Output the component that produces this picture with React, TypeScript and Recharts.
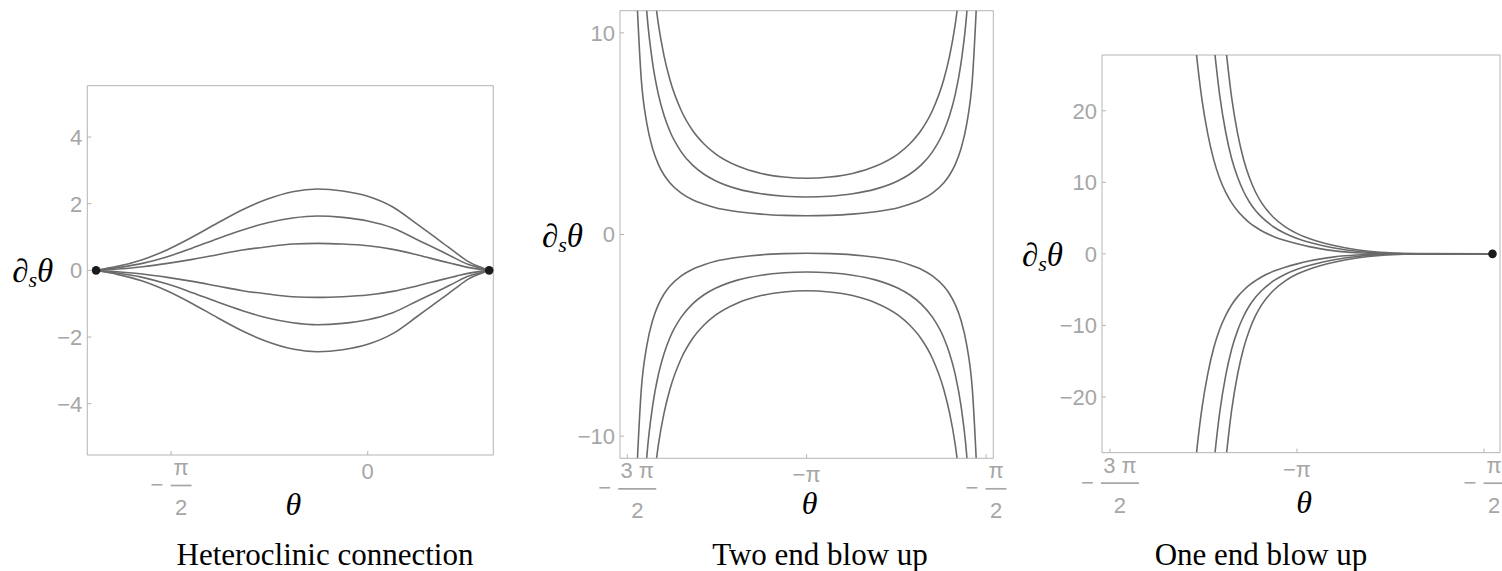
import React from 'react';
import { ComposedChart, Line, XAxis, YAxis, ReferenceLine, ReferenceDot } from 'recharts';

const PI = Math.PI;

// Heteroclinic connection: three orbits above and three below, all joining the two equilibria
const heteroTheta = [-2.17, -2.1, -2.0, -1.8, -1.6, -1.4, -1.2, -1.0, -0.8, -0.6, -0.4, -0.2, 0.0, 0.2, 0.4, 0.6, 0.7, 0.8, 0.9, 0.97];
const heteroUp1 = [0, 0.02, 0.04, 0.11, 0.21, 0.33, 0.47, 0.61, 0.71, 0.79, 0.81, 0.79, 0.74, 0.63, 0.46, 0.27, 0.18, 0.09, 0.03, 0];
const heteroUp2 = [0, 0.03, 0.08, 0.21, 0.41, 0.67, 0.95, 1.21, 1.43, 1.57, 1.63, 1.59, 1.48, 1.27, 0.91, 0.55, 0.36, 0.18, 0.07, 0];
const heteroUp3 = [0, 0.05, 0.12, 0.32, 0.62, 1.0, 1.42, 1.82, 2.14, 2.36, 2.44, 2.38, 2.22, 1.9, 1.37, 0.82, 0.54, 0.27, 0.1, 0];
const heteroDown1 = [0, -0.02, -0.04, -0.11, -0.21, -0.33, -0.47, -0.61, -0.71, -0.79, -0.81, -0.79, -0.74, -0.63, -0.46, -0.27, -0.18, -0.09, -0.03, 0];
const heteroDown2 = [0, -0.03, -0.08, -0.21, -0.41, -0.67, -0.95, -1.21, -1.43, -1.57, -1.63, -1.59, -1.48, -1.27, -0.91, -0.55, -0.36, -0.18, -0.07, 0];
const heteroDown3 = [0, -0.05, -0.12, -0.32, -0.62, -1.0, -1.42, -1.82, -2.14, -2.36, -2.44, -2.38, -2.22, -1.9, -1.37, -0.82, -0.54, -0.27, -0.1, 0];
const heteroEquilibria = [-2.17, 0.97];
const heteroXTicks = [-PI / 2, 0];
const heteroXLabels = ['−π/2', '0'];
const heteroYTicks = [-4, -2, 0, 2, 4];

// Two end blow up: orbits escape to infinity on both sides of -π
const twoEndTheta = [
  -4.69, -4.64, -4.59, -4.54, -4.49, -4.44, -4.39, -4.34, -4.24, -4.14, -4.04, -3.94, -3.74, -3.54, -3.34, -3.14,
  -2.94, -2.74, -2.54, -2.34, -2.24, -2.14, -2.04, -1.94, -1.89, -1.84, -1.79, -1.74, -1.69, -1.64, -1.59,
];
const twoEndUp1 = [
  null, 13.15, 7.72, 5.47, 4.25, 3.48, 2.95, 2.57, 2.05, 1.72, 1.5, 1.33, 1.13, 1.01, 0.95, 0.93,
  0.95, 1.01, 1.13, 1.33, 1.5, 1.72, 2.05, 2.57, 2.95, 3.48, 4.25, 5.47, 7.72, 13.15, null,
];
const twoEndUp2 = [
  null, null, 15.44, 10.94, 8.49, 6.95, 5.9, 5.13, 4.1, 3.44, 2.99, 2.67, 2.25, 2.02, 1.9, 1.86,
  1.9, 2.02, 2.25, 2.67, 2.99, 3.44, 4.1, 5.13, 5.9, 6.95, 8.49, 10.94, 15.44, null, null,
];
const twoEndUp3 = [
  null, null, null, null, 12.74, 10.43, 8.85, 7.7, 6.15, 5.16, 4.49, 4.0, 3.38, 3.03, 2.85, 2.79,
  2.85, 3.03, 3.38, 4.0, 4.49, 5.16, 6.15, 7.7, 8.85, 10.43, 12.74, null, null, null, null,
];
const twoEndDown1 = [
  null, -13.15, -7.72, -5.47, -4.25, -3.48, -2.95, -2.57, -2.05, -1.72, -1.5, -1.33, -1.13, -1.01, -0.95, -0.93,
  -0.95, -1.01, -1.13, -1.33, -1.5, -1.72, -2.05, -2.57, -2.95, -3.48, -4.25, -5.47, -7.72, -13.15, null,
];
const twoEndDown2 = [
  null, null, -15.44, -10.94, -8.49, -6.95, -5.9, -5.13, -4.1, -3.44, -2.99, -2.67, -2.25, -2.02, -1.9, -1.86,
  -1.9, -2.02, -2.25, -2.67, -2.99, -3.44, -4.1, -5.13, -5.9, -6.95, -8.49, -10.94, -15.44, null, null,
];
const twoEndDown3 = [
  null, null, null, null, -12.74, -10.43, -8.85, -7.7, -6.15, -5.16, -4.49, -4.0, -3.38, -3.03, -2.85, -2.79,
  -2.85, -3.03, -3.38, -4.0, -4.49, -5.16, -6.15, -7.7, -8.85, -10.43, -12.74, null, null, null, null,
];
const twoEndXTicks = [(-3 * PI) / 2, -PI, -PI / 2];
const twoEndXLabels = ['−3 π/2', '−π', '−π/2'];
const twoEndYTicks = [-10, 0, 10];

// One end blow up: orbits leave the equilibrium and escape on the left only
const oneEndTheta = [
  -4.04, -3.99, -3.94, -3.89, -3.84, -3.79, -3.74, -3.69, -3.64, -3.59, -3.54, -3.49, -3.44, -3.34, -3.24,
  -3.14, -3.04, -2.94, -2.84, -2.74, -2.64, -2.54, -2.44, -2.34, -2.14, -1.5,
];
const oneEndUp1 = [
  38.0, 28.6, 21.6, 16.7, 13.1, 10.5, 8.6, 7.12, 5.98, 5.09, 4.34, 3.75, 3.23, 2.44, 1.86,
  1.4, 1.01, 0.7, 0.455, 0.276, 0.155, 0.081, 0.04, 0.02, 0, 0,
];
const oneEndUp2 = [
  null, null, null, null, 29.3, 22.1, 17.0, 13.3, 10.7, 8.72, 7.22, 6.06, 5.16, 3.79, 2.84,
  2.15, 1.63, 1.2, 0.855, 0.574, 0.362, 0.211, 0.115, 0.06, 0.015, 0,
];
const oneEndUp3 = [
  null, null, null, null, null, null, 28.9, 21.8, 16.8, 13.2, 10.6, 8.65, 7.17, 5.12, 3.77,
  2.83, 2.14, 1.62, 1.2, 0.85, 0.57, 0.36, 0.21, 0.113, 0.03, 0,
];
const oneEndDown1 = [
  -38.0, -28.6, -21.6, -16.7, -13.1, -10.5, -8.6, -7.12, -5.98, -5.09, -4.34, -3.75, -3.23, -2.44, -1.86,
  -1.4, -1.01, -0.7, -0.455, -0.276, -0.155, -0.081, -0.04, -0.02, 0, 0,
];
const oneEndDown2 = [
  null, null, null, null, -29.3, -22.1, -17.0, -13.3, -10.7, -8.72, -7.22, -6.06, -5.16, -3.79, -2.84,
  -2.15, -1.63, -1.2, -0.855, -0.574, -0.362, -0.211, -0.115, -0.06, -0.015, 0,
];
const oneEndDown3 = [
  null, null, null, null, null, null, -28.9, -21.8, -16.8, -13.2, -10.6, -8.65, -7.17, -5.12, -3.77,
  -2.83, -2.14, -1.62, -1.2, -0.85, -0.57, -0.36, -0.21, -0.113, -0.03, 0,
];
const oneEndEquilibria = [-1.5];
const oneEndXTicks = [(-3 * PI) / 2, -PI, -PI / 2];
const oneEndXLabels = ['−3 π/2', '−π', '−π/2'];
const oneEndYTicks = [-20, -10, 0, 10, 20];

const FRAME = '#b4b4b4';
const TICK_TEXT = '#a6a6a6';
const CURVE = '#6a6a6a';
const SANS = '"Liberation Sans", Arial, sans-serif';
const SERIF = '"Liberation Serif", "Times New Roman", serif';
const TICK_FONT = 22;

const curveKeys = ['u1', 'u2', 'u3', 'd1', 'd2', 'd3'];

function buildRows(theta: number[], curves: (number | null)[][]) {
  return theta.map((t, i) => {
    const row: Record<string, number | null> = { t };
    curves.forEach((c, k) => {
      row[curveKeys[k]] = c[i];
    });
    return row;
  });
}

// tick label under the frame: plain text, or a stacked fraction such as −3π/2
function PiText({ x, y, text }: { x: number; y: number; text: string }) {
  const m = text.match(/^(−?)(.+)\/(.+)$/);
  const common = { fill: TICK_TEXT, fontFamily: SANS, fontSize: TICK_FONT };
  if (!m) {
    return (
      <text x={x} y={y + 24} textAnchor="middle" {...common}>
        {text}
      </text>
    );
  }
  const [, sign, num, den] = m;
  const bar = num.length > 1 ? 38 : 21;
  const signW = sign ? 20 : 0;
  const start = x - (signW + bar) / 2;
  const fx = start + signW + bar / 2;
  return (
    <g>
      {sign && (
        <text x={start} y={y + 37} {...common}>
          −
        </text>
      )}
      <text x={fx} y={y + 20} textAnchor="middle" {...common}>
        {num}
      </text>
      <line x1={fx - bar / 2} x2={fx + bar / 2} y1={y + 30.5} y2={y + 30.5} stroke={TICK_TEXT} strokeWidth={1.7} />
      <text x={fx} y={y + 60} textAnchor="middle" {...common}>
        {den}
      </text>
    </g>
  );
}

function XTick(props: any) {
  const { x, y, payload, ticks, labels } = props;
  const i = ticks.indexOf(payload.value);
  const text = i >= 0 ? labels[i] : String(payload.value);
  return (
    <g>
      <line x1={x} x2={x} y1={y} y2={y - 4} stroke={FRAME} />
      <PiText x={x} y={y} text={text} />
    </g>
  );
}

function YTick(props: any) {
  const { x, y, payload } = props;
  const v = payload.value as number;
  const text = v < 0 ? `−${-v}` : `${v}`;
  return (
    <g>
      <line x1={x} x2={x + 4} y1={y} y2={y} stroke={FRAME} />
      <text x={x - 5} y={y} dy="0.36em" textAnchor="end" fill={TICK_TEXT} fontFamily={SANS} fontSize={TICK_FONT}>
        {text}
      </text>
    </g>
  );
}

type PanelProps = {
  left: number;
  width: number;
  plotTop: number;
  plotBottom: number;
  yAxisWidth: number;
  rightGap: number;
  theta: number[];
  curves: (number | null)[][];
  xDomain: [number, number];
  yDomain: [number, number];
  xTicks: number[];
  xLabels: string[];
  yTicks: number[];
  dots: number[];
  labelGap: number;
  thetaDrop: number;
};

function Panel(p: PanelProps) {
  const height = 571;
  const rows = buildRows(p.theta, p.curves);
  return (
    <div style={{ position: 'absolute', left: p.left, top: 0 }}>
      <ComposedChart
        width={p.width}
        height={height}
        data={rows}
        margin={{ top: p.plotTop, right: p.rightGap, bottom: 0, left: 0 }}
      >
        <XAxis
          dataKey="t"
          type="number"
          domain={p.xDomain}
          allowDataOverflow
          ticks={p.xTicks}
          interval={0}
          height={height - p.plotBottom}
          stroke={FRAME}
          tickLine={false}
          tickSize={0}
          tickMargin={0}
          tick={(tp: any) => <XTick {...tp} ticks={p.xTicks} labels={p.xLabels} />}
          label={{
            content: (lp: any) => {
              const vb = lp.viewBox;
              return (
                <text
                  x={vb.x + vb.width / 2 + 3}
                  y={vb.y + p.thetaDrop}
                  textAnchor="middle"
                  fontFamily={SERIF}
                  fontStyle="italic"
                  fontSize={32}
                  fill="#000"
                >
                  θ
                </text>
              );
            },
          }}
        />
        <YAxis
          type="number"
          domain={p.yDomain}
          allowDataOverflow
          ticks={p.yTicks}
          interval={0}
          width={p.yAxisWidth}
          stroke={FRAME}
          tickLine={false}
          tickSize={0}
          tickMargin={0}
          tick={(tp: any) => <YTick {...tp} />}
          label={{
            content: (lp: any) => {
              const vb = lp.viewBox;
              return (
                <text
                  x={vb.x + vb.width - p.labelGap}
                  y={vb.y + vb.height / 2 + 12}
                  textAnchor="end"
                  fontFamily={SERIF}
                  fontStyle="italic"
                  fontSize={33}
                  fill="#000"
                >
                  ∂<tspan fontSize={22} dy={5}>s</tspan>
                  <tspan dy={-5}>θ</tspan>
                </text>
              );
            },
          }}
        />
        <ReferenceLine x={p.xDomain[1]} stroke={FRAME} />
        <ReferenceLine y={p.yDomain[1]} stroke={FRAME} />
        {curveKeys.map((k) => (
          <Line
            key={k}
            dataKey={k}
            type="monotone"
            stroke={CURVE}
            strokeWidth={1.6}
            dot={false}
            activeDot={false}
            isAnimationActive={false}
          />
        ))}
        {p.dots.map((t) => (
          <ReferenceDot key={t} x={t} y={0} r={4.3} fill="#1b1b1b" stroke="none" />
        ))}
      </ComposedChart>
    </div>
  );
}

const captions = [
  { x: 325, text: 'Heteroclinic connection' },
  { x: 820, text: 'Two end blow up' },
  { x: 1261, text: 'One end blow up' },
];

export default function App() {
  return (
    <div style={{ position: 'absolute', left: 0, top: 0, width: 1502, height: 571, background: '#fff', overflow: 'hidden' }}>
      <Panel
        left={0}
        width={500}
        plotTop={85.7}
        plotBottom={455}
        yAxisWidth={87.3}
        rightGap={6.7}
        theta={heteroTheta}
        curves={[heteroUp1, heteroUp2, heteroUp3, heteroDown1, heteroDown2, heteroDown3]}
        xDomain={[-2.24, 1.003]}
        yDomain={[-5.54, 5.54]}
        xTicks={heteroXTicks}
        xLabels={heteroXLabels}
        yTicks={heteroYTicks}
        dots={heteroEquilibria}
        labelGap={34}
        thetaDrop={60}
      />
      <Panel
        left={500}
        width={520}
        plotTop={10.7}
        plotBottom={458.3}
        yAxisWidth={120}
        rightGap={26.7}
        theta={twoEndTheta}
        curves={[twoEndUp1, twoEndUp2, twoEndUp3, twoEndDown1, twoEndDown2, twoEndDown3]}
        xDomain={[-4.776, -1.507]}
        yDomain={[-11.1, 11.1]}
        xTicks={twoEndXTicks}
        xLabels={twoEndXLabels}
        yTicks={twoEndYTicks}
        dots={[]}
        labelGap={37}
        thetaDrop={56}
      />
      <Panel
        left={1000}
        width={502}
        plotTop={55}
        plotBottom={452.7}
        yAxisWidth={102}
        rightGap={2}
        theta={oneEndTheta}
        curves={[oneEndUp1, oneEndUp2, oneEndUp3, oneEndDown1, oneEndDown2, oneEndDown3]}
        xDomain={[-4.779, -1.437]}
        yDomain={[-27.8, 27.8]}
        xTicks={oneEndXTicks}
        xLabels={oneEndXLabels}
        yTicks={oneEndYTicks}
        dots={oneEndEquilibria}
        labelGap={39}
        thetaDrop={60}
      />
      <svg width={1502} height={571} style={{ position: 'absolute', left: 0, top: 0, pointerEvents: 'none' }}>
        {captions.map((c) => (
          <text key={c.text} x={c.x} y={565} textAnchor="middle" fontFamily={SERIF} fontSize={31} fill="#000">
            {c.text}
          </text>
        ))}
      </svg>
    </div>
  );
}
